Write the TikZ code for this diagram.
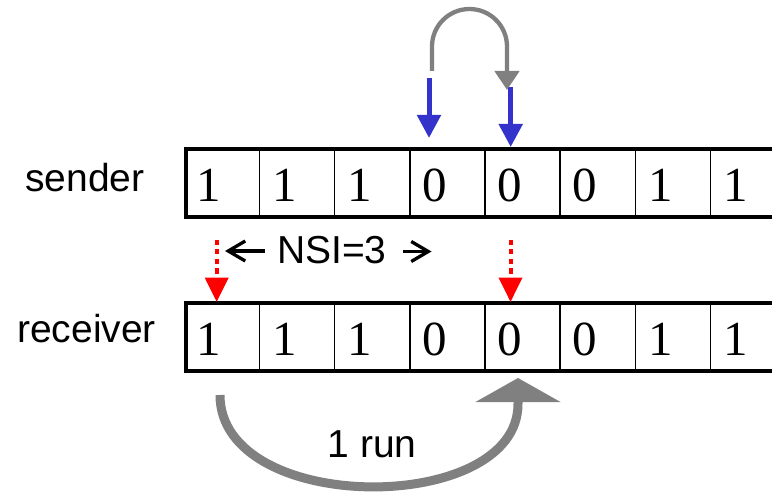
\documentclass[tikz,border=0pt]{standalone}
\usepackage{fontspec}
\setmainfont{Liberation Serif}
\setsansfont{Liberation Sans}
\usetikzlibrary{arrows.meta}
\definecolor{arrowblue}{RGB}{51,51,204}
\definecolor{arcgray}{RGB}{128,128,128}
\definecolor{markred}{RGB}{255,0,0}
\begin{document}
\begin{tikzpicture}[x=1pt,y=-1pt,
  celldigit/.style={font=\fontsize{49}{49}\selectfont, inner sep=0pt, anchor=base},
  rowlabel/.style={font=\sffamily\fontsize{39}{39}\selectfont, inner sep=0pt, anchor=base west},
  rowframe/.style={line width=4pt},
  divider/.style={line width=1.7pt},
  bluearrow/.style={arrowblue, line width=5pt, -{Triangle[length=23pt,width=23pt]}},
  redarrow/.style={markred, line width=4pt, dash pattern=on 5pt off 4.5pt, -{Triangle[length=24.5pt,width=23pt]}},
  nsiarrow/.style={black, line width=3.3pt, -{Straight Barb[length=17pt,width=20pt,line width=3.3pt]}},
  toparc/.style={arcgray, line width=4.3pt, -{Triangle[length=19pt,width=24pt]}},
  runarc/.style={arcgray, line width=9pt, -{Triangle[length=24pt,width=84pt]}},
]
\useasboundingbox (0,0) rectangle (772,492);
\fill[white] (0,0) rectangle (772,492);

% sender row
\draw[rowframe] (772,149) -- (185.5,149) -- (185.5,217) -- (772,217);
\foreach \k in {1,...,7} \draw[divider] ({184.2+75.2*\k},149) -- ({184.2+75.2*\k},217);
\foreach \d [count=\i] in {1,1,1,0,0,0,1,1}
  \node[celldigit] (s\i) at ({184.2+75.2*(\i-1)+25},201.5) {\d};

% receiver row
\draw[rowframe] (772,303.3) -- (185.5,303.3) -- (185.5,371) -- (772,371);
\foreach \k in {1,...,7} \draw[divider] ({184.2+75.2*\k},303.3) -- ({184.2+75.2*\k},371);
\foreach \d [count=\i] in {1,1,1,0,0,0,1,1}
  \node[celldigit] (r\i) at ({184.2+75.2*(\i-1)+25},355.5) {\d};

% labels
\node[rowlabel] (sender) at (25,192) {sender};
\node[rowlabel] (receiver) at (17,342.7) {receiver};
\node[rowlabel] (nsi) at (277,264) {NSI=3};
\node[rowlabel] (run) at (327.4,457) {1 run};

% NSI arrows
\coordinate (nla) at (265,251);
\coordinate (nlb) at (225,251);
\coordinate (nra) at (403,251.5);
\coordinate (nrb) at (431.5,251.5);
\draw[nsiarrow] (nla) -- (nlb);
\draw[nsiarrow] (nra) -- (nrb);

% blue arrows
\coordinate (b1s) at (429,78);
\coordinate (b1e) at (429,138);
\coordinate (b2s) at (510.7,87);
\coordinate (b2e) at (510.7,147);
\draw[bluearrow] (b1s) -- (b1e);
\draw[bluearrow] (b2s) -- (b2e);

% top gray arc
\coordinate (tas) at (432,71);
\coordinate (tae) at (507,90);
\draw[toparc] (tas) -- (432,46.5) .. controls (432,25.8) and (448.8,9) .. (469.5,9)
  .. controls (490.2,9) and (507,25.8) .. (507,46.5) -- (tae);

% red dotted arrows
\coordinate (rd1s) at (216.7,240);
\coordinate (rd1e) at (216.7,302);
\coordinate (rd2s) at (510.5,240);
\coordinate (rd2e) at (510.5,302);
\draw[redarrow] (rd1s) -- (rd1e);
\draw[redarrow] (rd2s) -- (rd2e);

% bottom run arc
\coordinate (ras) at (220,395);
\coordinate (rae) at (518,378);
\draw[runarc] (ras) .. controls (220,516) and (518,516) .. (518,404) -- (rae);
\end{tikzpicture}
\end{document}
